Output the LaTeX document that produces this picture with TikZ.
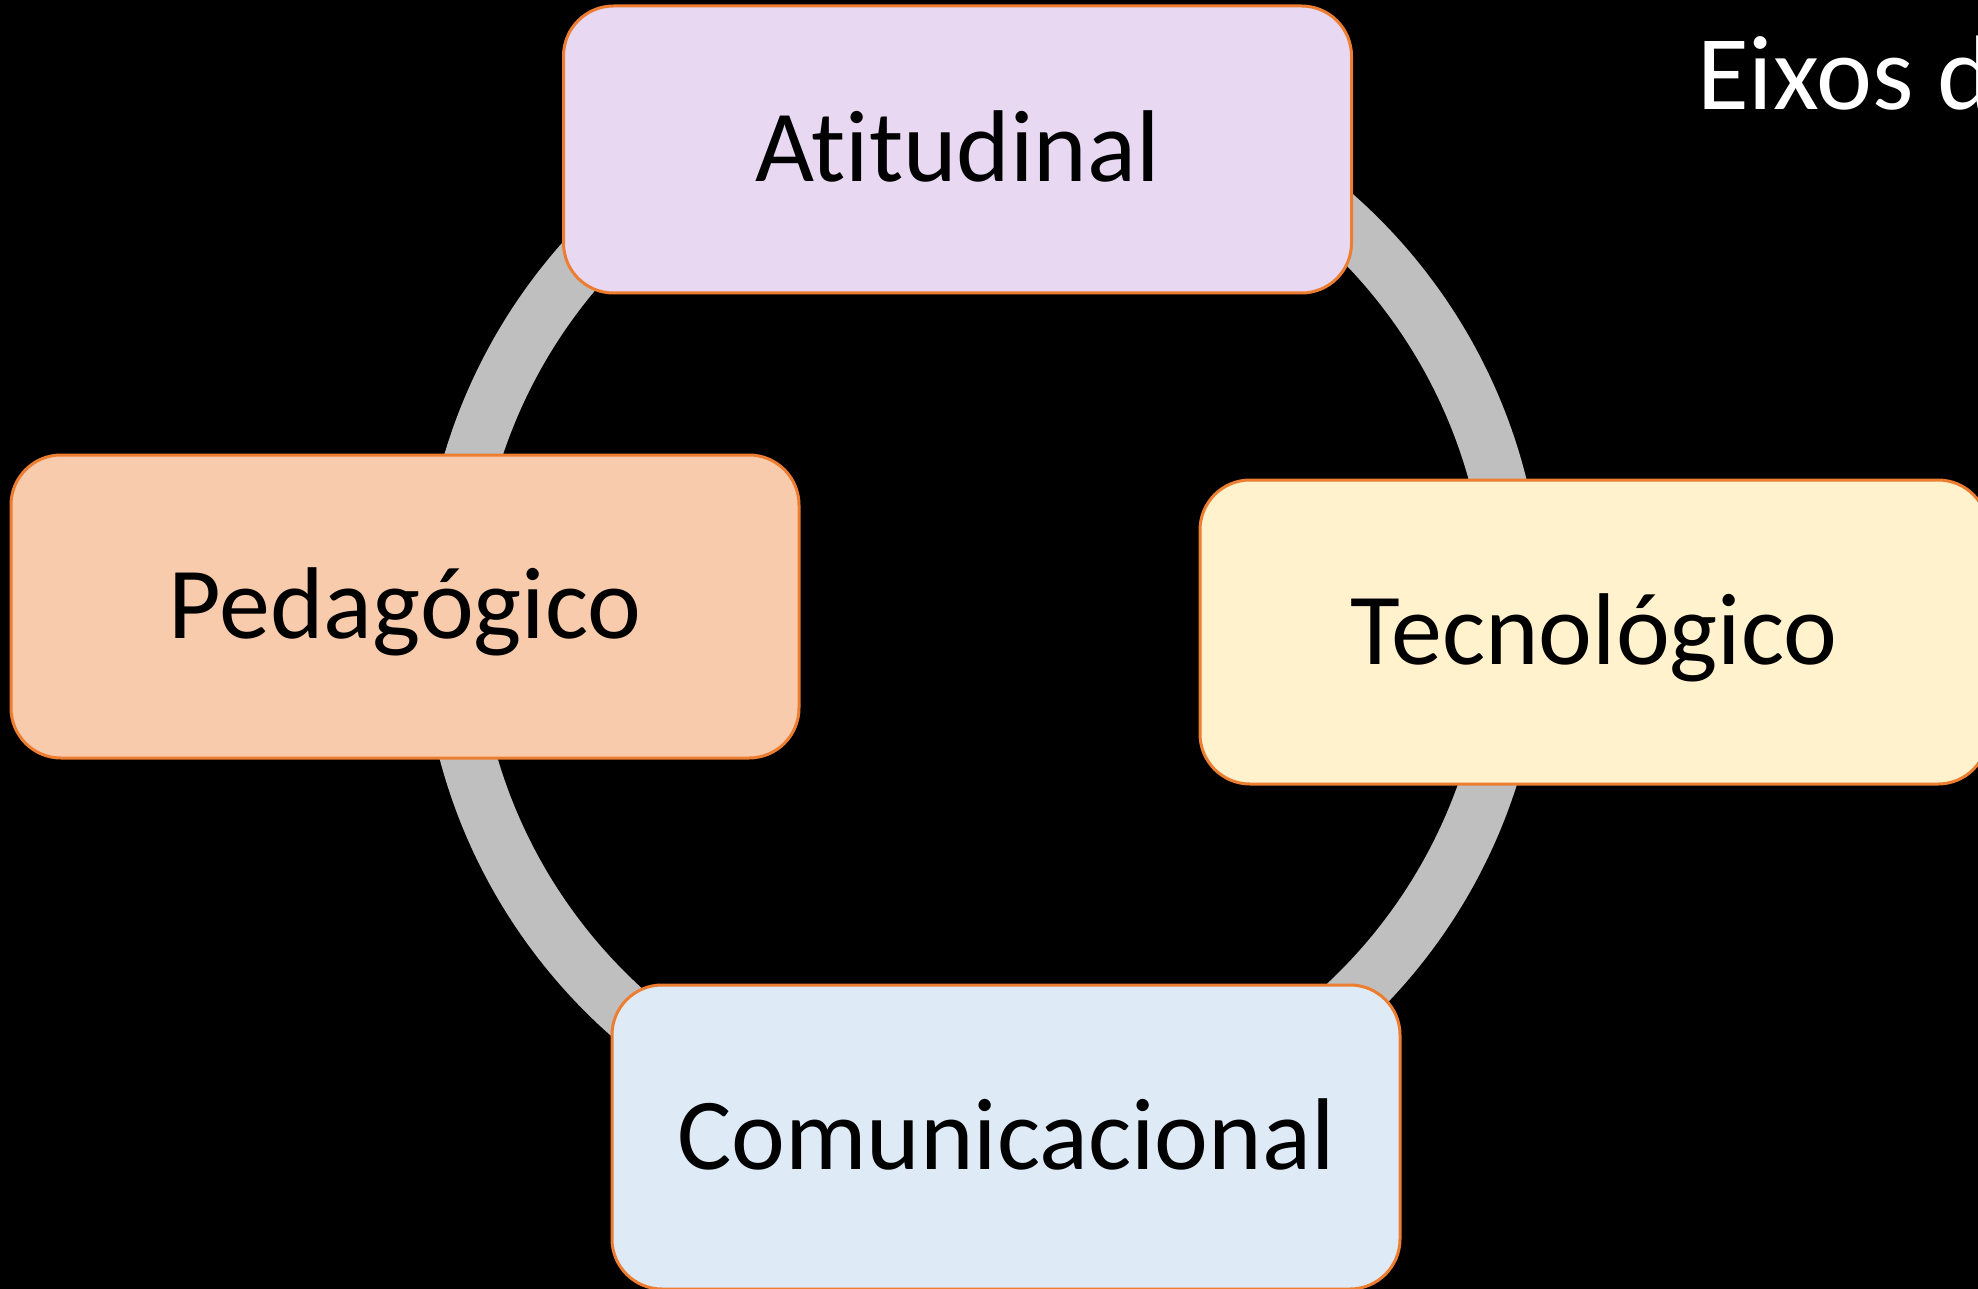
\documentclass[tikz,border=0pt]{standalone}
\usepackage{fontspec}
\setmainfont[Ligatures={NoCommon}]{Carlito}
\definecolor{ringgray}{HTML}{BFBFBF}
\definecolor{borderorange}{HTML}{ED7D31}
\definecolor{fillA}{HTML}{E8D8F2}
\definecolor{fillP}{HTML}{F8CBAD}
\definecolor{fillT}{HTML}{FFF2CC}
\definecolor{fillC}{HTML}{DEEBF7}
\tikzset{
  axisbox/.style={draw=borderorange, line width=3pt, rounded corners=50pt,
    minimum width=788pt, minimum height=304pt, inner sep=0pt,
    font=\fontsize{102}{122}\selectfont, text=black,
    text height=64pt, text depth=0pt, align=center},
  ringst/.style={draw=ringgray, line width=56pt}
}
\begin{document}
\begin{tikzpicture}[x=1pt,y=-1pt]
\useasboundingbox (0,0) rectangle (1978,1289);
\clip (0,0) rectangle (1978,1289);
\fill[black] (0,0) rectangle (1978,1289);
\coordinate (ctr) at (982,615);
\draw[ringst] (ctr) circle[radius=533pt];
\node[axisbox, fill=fillA, minimum height=287pt] (ati) at (957.5,149.5) {Atitudinal};
\node[axisbox, fill=fillP, minimum height=303pt] (ped) at (405,606.5) {Pedagógico};
\node[axisbox, fill=fillT] (tec) at (1594,632) {Tecnológico};
\node[axisbox, fill=fillC] (com) at (1006,1137) {Comunicacional};
\node[anchor=base west, inner sep=0pt, text=white, font=\fontsize{106}{126}\selectfont] (title) at (1697,110) {Eixos d};
\end{tikzpicture}
\end{document}
